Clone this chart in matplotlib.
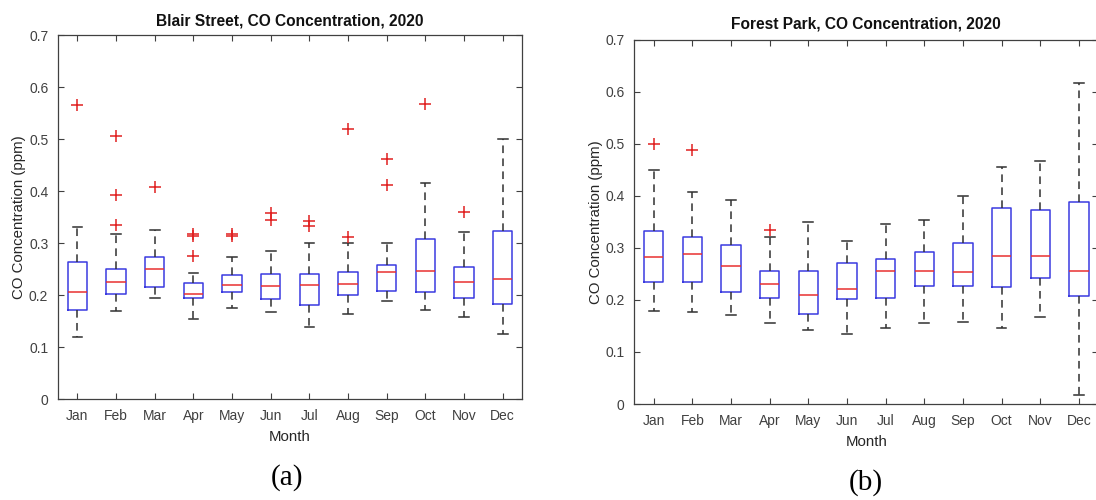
import matplotlib
matplotlib.use("Agg")
import matplotlib.pyplot as plt
from matplotlib.ticker import FuncFormatter

months = ["Jan", "Feb", "Mar", "Apr", "May", "Jun", "Jul", "Aug", "Sep", "Oct", "Nov", "Dec"]

# Panel (a): Blair Street
blair_whislo = [0.119, 0.170, 0.195, 0.154, 0.176, 0.168, 0.139, 0.163, 0.189, 0.172, 0.159, 0.126]
blair_q1     = [0.172, 0.203, 0.215, 0.195, 0.206, 0.193, 0.182, 0.201, 0.208, 0.206, 0.195, 0.183]
blair_med    = [0.207, 0.225, 0.250, 0.203, 0.220, 0.218, 0.220, 0.221, 0.244, 0.246, 0.225, 0.231]
blair_q3     = [0.264, 0.250, 0.274, 0.224, 0.238, 0.240, 0.240, 0.245, 0.258, 0.308, 0.255, 0.323]
blair_whishi = [0.332, 0.318, 0.326, 0.242, 0.274, 0.285, 0.301, 0.300, 0.301, 0.415, 0.322, 0.500]
blair_fliers = [[0.565], [0.335, 0.392, 0.505], [0.408], [0.275, 0.313, 0.317],
                [0.313, 0.317], [0.345, 0.358], [0.333, 0.342], [0.312, 0.520],
                [0.412, 0.461], [0.567], [0.360], []]

# Panel (b): Forest Park
forest_whislo = [0.178, 0.177, 0.171, 0.155, 0.143, 0.134, 0.145, 0.155, 0.157, 0.145, 0.168, 0.017]
forest_q1     = [0.234, 0.234, 0.215, 0.204, 0.173, 0.202, 0.203, 0.226, 0.226, 0.224, 0.242, 0.207]
forest_med    = [0.282, 0.288, 0.265, 0.230, 0.209, 0.221, 0.255, 0.256, 0.253, 0.284, 0.284, 0.255]
forest_q3     = [0.333, 0.321, 0.306, 0.255, 0.255, 0.270, 0.278, 0.291, 0.309, 0.376, 0.373, 0.388]
forest_whishi = [0.449, 0.408, 0.392, 0.321, 0.349, 0.313, 0.346, 0.354, 0.399, 0.455, 0.466, 0.617]
forest_fliers = [[0.500], [0.488], [], [0.335], [], [], [], [], [], [], [], []]

titles = ["Blair Street, CO Concentration, 2020", "Forest Park, CO Concentration, 2020"]
panel_labels = ["(a)", "(b)"]
ylabel = "CO Concentration (ppm)"
xlabel = "Month"
yticks = [0, 0.1, 0.2, 0.3, 0.4, 0.5, 0.6, 0.7]

plt.rcParams['font.family'] = ['Liberation Sans', 'DejaVu Sans']

W, H = 1096, 500
fig = plt.figure(figsize=(W / 100, H / 100), dpi=100)

axes_px = [(58, 35, 522, 399.3), (634.4, 39.5, 1098.2, 404)]
title_y = [20.5, 24]
label_pos = [(287, 478), (866, 483)]

panels = [
    (blair_whislo, blair_q1, blair_med, blair_q3, blair_whishi, blair_fliers),
    (forest_whislo, forest_q1, forest_med, forest_q3, forest_whishi, forest_fliers),
]

tick_color = "#404040"
for i, (wl, q1, md, q3, wh, fl) in enumerate(panels):
    x0, y0, x1, y1 = axes_px[i]
    ax = fig.add_axes([x0 / W, 1 - y1 / H, (x1 - x0) / W, (y1 - y0) / H])
    stats = []
    for j in range(len(months)):
        stats.append(dict(whislo=wl[j], q1=q1[j], med=md[j], q3=q3[j], whishi=wh[j],
                          fliers=fl[j], label=months[j]))
    ax.bxp(stats, positions=list(range(1, 13)), widths=0.5, capwidths=0.25,
           showfliers=True,
           boxprops=dict(color="#3a3ae0", linewidth=1.1),
           medianprops=dict(color="#e83030", linewidth=1.1),
           whiskerprops=dict(color="#303030", linewidth=1.1, linestyle=(0, (5, 3.5))),
           capprops=dict(color="#303030", linewidth=1.1),
           flierprops=dict(marker="+", markeredgecolor="#e02020", markersize=8,
                           markeredgewidth=1.1, linestyle="none"))
    ax.set_xlim(0.5, 12.5)
    ax.set_ylim(0, 0.7)
    ax.set_yticks(yticks)
    ax.yaxis.set_major_formatter(FuncFormatter(lambda v, p: f"{v:g}"))
    ax.set_xticks(list(range(1, 13)))
    ax.set_xticklabels(months)
    ax.tick_params(direction="in", top=True, right=True, length=4, width=0.8,
                   color="#404040", labelcolor=tick_color, labelsize=10, pad=7)
    for s in ax.spines.values():
        s.set_color("#404040")
        s.set_linewidth(0.9)
    ax.set_ylabel(ylabel, fontsize=10.8, color="#262626", labelpad=2)
    ax.set_xlabel(xlabel, fontsize=10.8, color="#262626", labelpad=5)
    fig.text((x0 + x1) / 2 / W, 1 - title_y[i] / H, titles[i], ha="center", va="center",
             fontsize=11.2, fontweight="bold", color="#111111")
    fig.text(label_pos[i][0] / W, 1 - label_pos[i][1] / H, panel_labels[i], ha="center",
             va="center", fontsize=21, family=["Liberation Serif", "DejaVu Serif"], color="black")

fig.savefig("out.png", dpi=100)
